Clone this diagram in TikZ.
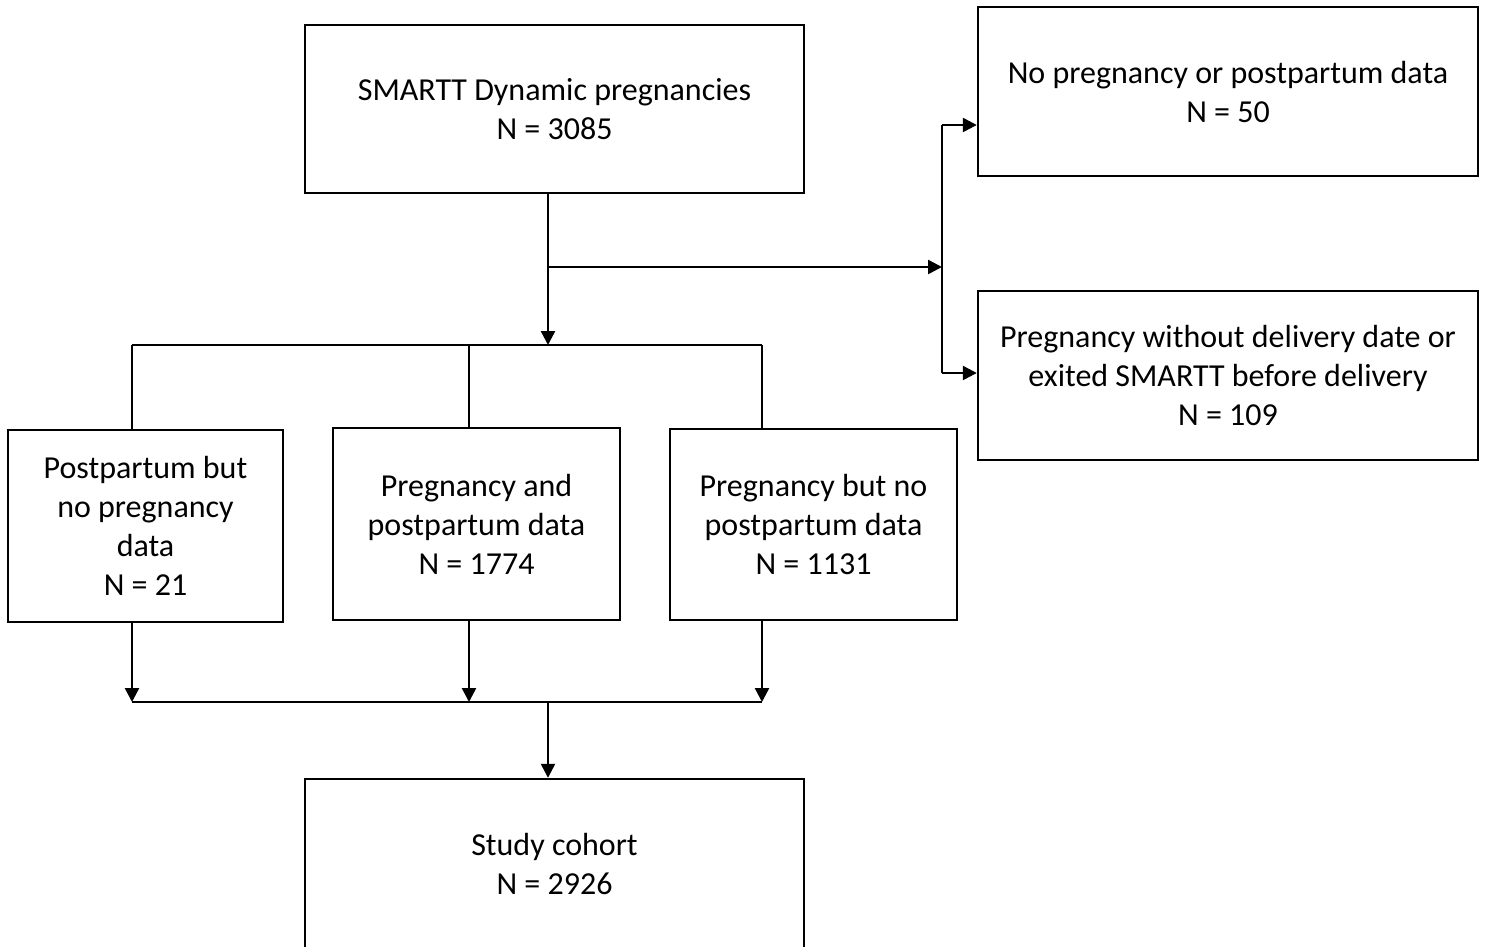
\documentclass[tikz,border=0pt]{standalone}
\usepackage{fontspec}
\setmainfont{Carlito}
\usetikzlibrary{arrows.meta}
\begin{document}
\begin{tikzpicture}[x=1pt,y=-1pt,
  box/.style={draw,line width=2.4pt,inner sep=0pt,align=center,font=\fontsize{32}{39}\selectfont},
  conn/.style={line width=2.4pt},
  arr/.style={conn,-{Triangle[length=14pt,width=14pt]}}]
\useasboundingbox (0,0) rectangle (1486,946);
\begin{scope}
\clip (0,0) rectangle (1486,946);
\node[box,minimum width=499pt,minimum height=168pt] (top) at (554.5,109) {SMARTT Dynamic pregnancies\\N = 3085};
\node[box,minimum width=500pt,minimum height=169pt] (r1) at (1228,91.5) {No pregnancy or postpartum data\\N = 50};
\node[box,minimum width=500pt,minimum height=169pt] (r2) at (1228,375.5) {Pregnancy without delivery date or\\exited SMARTT before delivery\\N = 109};
\node[box,minimum width=275pt,minimum height=192pt] (a) at (145.5,526) {Postpartum but\\no pregnancy\\data\\N = 21};
\node[box,minimum width=287pt,minimum height=192pt] (b) at (476.5,524) {Pregnancy and\\postpartum data\\N = 1774};
\node[box,minimum width=287pt,minimum height=191pt] (c) at (813.5,524.5) {Pregnancy but no\\postpartum data\\N = 1131};
\node[box,minimum width=499pt,minimum height=170pt] (bot) at (554.5,864) {Study cohort\\N = 2926};
\end{scope}
\coordinate (t1) at (548,193);
\coordinate (j1) at (548,267);
\coordinate (s) at (548,345);
\coordinate (v) at (942,267);
\coordinate (vt) at (942,125);
\coordinate (vb) at (942,373);
\coordinate (la) at (132,345);
\coordinate (lb) at (469,345);
\coordinate (lc) at (762,345);
\coordinate (ma) at (132,702);
\coordinate (mb) at (469,702);
\coordinate (mc) at (762,702);
\coordinate (m) at (548,702);
\draw[arr] (t1) -- (s);
\draw[arr] (j1) -- (v);
\draw[conn] (vt) -- (vb);
\draw[arr] (vt) -- (vt -| r1.west);
\draw[arr] (vb) -- (vb -| r2.west);
\draw[conn] (la) -- (lc);
\draw[conn] (la) -- (la |- a.north);
\draw[conn] (lb) -- (lb |- b.north);
\draw[conn] (lc) -- (lc |- c.north);
\draw[arr] (ma |- a.south) -- (ma);
\draw[arr] (mb |- b.south) -- (mb);
\draw[arr] (mc |- c.south) -- (mc);
\draw[conn] (ma) -- (mc);
\draw[arr] (m) -- (bot.north -| m);
\end{tikzpicture}
\end{document}
